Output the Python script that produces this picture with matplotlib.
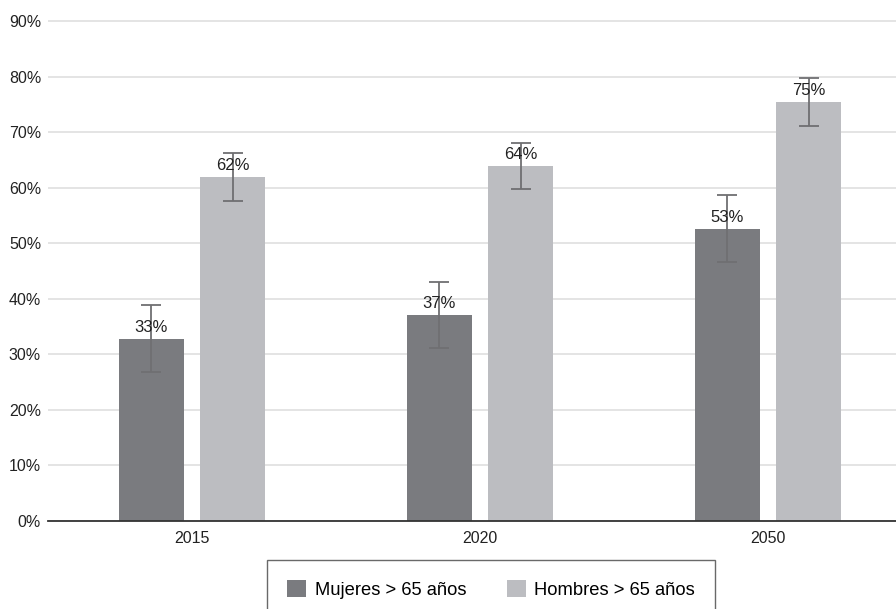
import matplotlib.pyplot as plt
import numpy as np

plt.rcParams["font.family"] = ["Liberation Sans", "DejaVu Sans"]

# ---------------- DATA ----------------
years = ["2015", "2020", "2050"]
mujeres = [32.8, 37.1, 52.6]
hombres = [61.9, 63.9, 75.4]
mujeres_err = [6.0, 6.0, 6.0]
hombres_err = [4.3, 4.2, 4.3]
mujeres_labels = ["33%", "37%", "53%"]
hombres_labels = ["62%", "64%", "75%"]
yticks = [0, 10, 20, 30, 40, 50, 60, 70, 80, 90]

C_MUJ = "#7a7b7f"
C_HOM = "#bcbdc1"
C_ERR = "#6f6f72"

fig = plt.figure(figsize=(8.96, 6.09), dpi=100)
# axes run a bit past the right edge, like the cropped original
ax = fig.add_axes([48 / 896, 1 - 521 / 609, 864 / 896, (521 - 15.4) / 609])

x = np.arange(len(years))
w = 0.226
off = 0.142

ax.bar(x - off, mujeres, w, color=C_MUJ, zorder=2, label="Mujeres > 65 años")
ax.bar(x + off, hombres, w, color=C_HOM, zorder=2, label="Hombres > 65 años")
ax.errorbar(x - off, mujeres, yerr=mujeres_err, fmt="none", ecolor=C_ERR,
            elinewidth=1.3, capsize=7, capthick=1.3, zorder=3)
ax.errorbar(x + off, hombres, yerr=hombres_err, fmt="none", ecolor=C_ERR,
            elinewidth=1.3, capsize=7, capthick=1.3, zorder=3)

for xi, v, lab in zip(x - off, mujeres, mujeres_labels):
    ax.text(xi, v + 0.7, lab, ha="center", va="bottom", fontsize=12,
            color="#222222", zorder=4)
for xi, v, lab in zip(x + off, hombres, hombres_labels):
    ax.text(xi, v + 0.7, lab, ha="center", va="bottom", fontsize=12,
            color="#222222", zorder=4)

ax.set_xlim(-0.5, 2.5)
ax.set_ylim(0, 91)
ax.set_yticks(yticks)
ax.set_yticklabels([f"{t}%" for t in yticks])
ax.set_xticks(x)
ax.set_xticklabels(years)
ax.tick_params(axis="both", length=0, labelsize=11.5, colors="#222222")
ax.tick_params(axis="y", pad=5)
ax.tick_params(axis="x", pad=7)
ax.yaxis.grid(True, color="#dddddd", linewidth=1.1, zorder=0)
ax.set_axisbelow(True)
for s in ["top", "right", "left"]:
    ax.spines[s].set_visible(False)
ax.spines["bottom"].set_color("#333333")
ax.spines["bottom"].set_linewidth(1.3)
ax.spines["bottom"].set_zorder(5)

leg = fig.legend(loc="upper left", bbox_to_anchor=(267 / 896, 1 - 560 / 609),
                 ncol=2, fontsize=13.2, frameon=True, fancybox=False,
                 handlelength=1.05, handleheight=1.05, handletextpad=0.45,
                 columnspacing=2.2, borderpad=1.1, borderaxespad=0)
leg.get_frame().set_edgecolor("#444444")
leg.get_frame().set_linewidth(1.0)

fig.savefig("out.png", dpi=100)
